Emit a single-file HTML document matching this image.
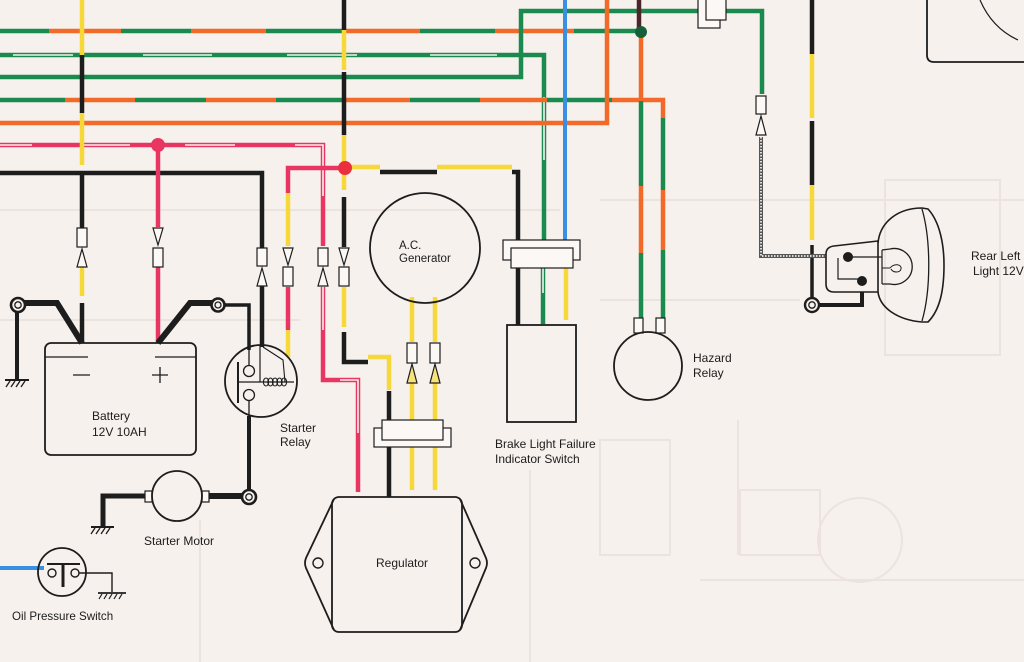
<!DOCTYPE html>
<html><head><meta charset="utf-8">
<style>
html,body{margin:0;padding:0;background:#f7f1ed;}
svg{display:block;}
text{font-family:"Liberation Sans",Arial,sans-serif;fill:#1c1c1c;font-size:12px;}
</style></head><body>
<svg width="1024" height="662" viewBox="0 0 1024 662" xmlns="http://www.w3.org/2000/svg">
<rect width="1024" height="662" fill="#f7f1ed"/>

<!-- faint background print-through -->
<g stroke="#ece3de" stroke-width="2" fill="none">
  <rect x="600" y="440" width="70" height="115"/>
  <line x1="738" y1="420" x2="738" y2="555"/>
  <rect x="740" y="490" width="80" height="65"/>
  <circle cx="860" cy="540" r="42"/>
  <rect x="885" y="180" width="115" height="175"/>
  <line x1="0" y1="210" x2="560" y2="210"/>
  <line x1="0" y1="320" x2="300" y2="320"/>
  <line x1="600" y1="200" x2="1024" y2="200"/>
  <line x1="600" y1="300" x2="800" y2="300"/>
  <line x1="200" y1="520" x2="200" y2="662"/>
  <line x1="530" y1="470" x2="530" y2="662"/>
  <line x1="700" y1="580" x2="1024" y2="580"/>
</g>

<g fill="none" stroke-width="4.5" stroke-linecap="butt">
<!-- y=31 G/O -->
<g stroke="#1b8a4f"><line x1="0" y1="31" x2="49" y2="31"/><line x1="121" y1="31" x2="191" y2="31"/><line x1="266" y1="31" x2="343" y2="31"/><line x1="420" y1="31" x2="495" y2="31"/><line x1="574" y1="31" x2="641" y2="31"/></g>
<g stroke="#f26a2a"><line x1="49" y1="31" x2="121" y2="31"/><line x1="191" y1="31" x2="266" y2="31"/><line x1="343" y1="31" x2="420" y2="31"/><line x1="495" y1="31" x2="574" y2="31"/></g>

<!-- y=55 G/W -->
<path d="M0,55 L544,55 L544,240" stroke="#1b8a4f"/>
<line x1="543" y1="267" x2="543" y2="324" stroke="#1b8a4f"/>
<g stroke="#f7f1ed" stroke-width="1.6"><line x1="13" y1="55" x2="73" y2="55"/><line x1="143" y1="55" x2="212" y2="55"/><line x1="287" y1="55" x2="357" y2="55"/><line x1="430" y1="55" x2="497" y2="55"/><line x1="544" y1="97" x2="544" y2="160"/><line x1="543" y1="268" x2="543" y2="293"/></g>

<!-- y=77 green up to top -->
<path d="M0,77 L521,77 L521,11 L698,11" stroke="#1b8a4f"/>
<path d="M725,11 L762,11 L762,94" stroke="#1b8a4f"/>

<!-- y=100 G/O -->
<g stroke="#1b8a4f"><line x1="0" y1="100" x2="65" y2="100"/><line x1="135" y1="100" x2="206" y2="100"/><line x1="276" y1="100" x2="345" y2="100"/><line x1="410" y1="100" x2="480" y2="100"/><line x1="547" y1="100" x2="612" y2="100"/></g>
<g stroke="#f26a2a"><line x1="65" y1="100" x2="135" y2="100"/><line x1="206" y1="100" x2="276" y2="100"/><line x1="345" y1="100" x2="410" y2="100"/><line x1="480" y1="100" x2="547" y2="100"/><path d="M612,100 L663,100 L663,118"/></g>
<line x1="663" y1="118" x2="663" y2="190" stroke="#1b8a4f"/>
<line x1="663" y1="190" x2="663" y2="250" stroke="#f26a2a"/>
<line x1="663" y1="250" x2="663" y2="318" stroke="#1b8a4f"/>

<!-- y=123 orange -->
<path d="M0,123 L607,123 L607,0" stroke="#f26a2a"/>

<!-- blue -->
<line x1="565" y1="0" x2="565" y2="240" stroke="#3b8fe3" stroke-width="4"/>

<!-- x=640 -->
<line x1="639" y1="0" x2="639" y2="30" stroke="#4b2528"/>
<line x1="641" y1="32" x2="641" y2="101" stroke="#f26a2a"/>
<line x1="641" y1="101" x2="641" y2="186" stroke="#1b8a4f"/>
<line x1="641" y1="186" x2="641" y2="253" stroke="#f26a2a"/>
<line x1="641" y1="253" x2="641" y2="318" stroke="#1b8a4f"/>

<!-- y=145 R/W -->
<path d="M0,145 L323,145 L323,246" stroke="#e93562"/>
<g stroke="#f7f1ed" stroke-width="1.6"><line x1="0" y1="145" x2="32" y2="145"/><line x1="83" y1="145" x2="130" y2="145"/><line x1="185" y1="145" x2="235" y2="145"/><path d="M295,145 L323,145 L323,196"/></g>

<!-- y=173 black -->
<path d="M0,173 L262,173 L262,248" stroke="#1d1d1d"/>

<!-- x=82 -->
<line x1="82" y1="0" x2="82" y2="55" stroke="#f7d83a"/>
<line x1="82" y1="55" x2="82" y2="113" stroke="#1d1d1d"/>
<line x1="82" y1="113" x2="82" y2="165" stroke="#f7d83a"/>
<line x1="82" y1="173" x2="82" y2="228" stroke="#1d1d1d"/>
<line x1="82" y1="262" x2="82" y2="296" stroke="#f7d83a"/>
<line x1="82" y1="303" x2="82" y2="343" stroke="#1d1d1d"/>

<!-- x=158 -->
<line x1="158" y1="145" x2="158" y2="227" stroke="#e93562"/>
<line x1="158" y1="267" x2="158" y2="343" stroke="#e93562"/>

<!-- x=262 below -->
<line x1="262" y1="286" x2="262" y2="347" stroke="#1d1d1d"/>

<!-- x=248 -->
<path d="M224,305 L249,305 L249,350" stroke="#1d1d1d" stroke-width="3.5"/>
<line x1="249" y1="416" x2="249" y2="491" stroke="#1d1d1d" stroke-width="4"/>

<!-- x=287 -->
<path d="M345,168 L288,168 L288,193" stroke="#e93562"/>
<line x1="288" y1="193" x2="288" y2="246" stroke="#f7d83a"/>
<line x1="288" y1="287" x2="288" y2="330" stroke="#e93562"/>
<line x1="288" y1="330" x2="288" y2="357" stroke="#f7d83a"/>

<!-- x=323 below -->
<path d="M323,287 L323,380 L358,380 L358,492" stroke="#e93562"/>
<g stroke="#f7f1ed" stroke-width="1.6"><line x1="323" y1="287" x2="323" y2="330"/><path d="M340,380 L358,380 L358,433"/></g>

<!-- x=344 -->
<line x1="344" y1="0" x2="344" y2="30" stroke="#1d1d1d"/>
<line x1="344" y1="30" x2="344" y2="70" stroke="#f7d83a"/>
<line x1="344" y1="72" x2="344" y2="135" stroke="#1d1d1d"/>
<line x1="344" y1="135" x2="344" y2="190" stroke="#f7d83a"/>
<line x1="344" y1="197" x2="344" y2="247" stroke="#1d1d1d"/>
<line x1="344" y1="287" x2="344" y2="327" stroke="#f7d83a"/>
<path d="M344,332 L344,362 L368,362" stroke="#1d1d1d"/>
<path d="M368,357 L389,357 L389,390" stroke="#f7d83a"/>
<line x1="389" y1="391" x2="389" y2="421" stroke="#1d1d1d"/>
<line x1="389" y1="446" x2="389" y2="497" stroke="#1d1d1d"/>

<!-- right from dot -->
<line x1="345" y1="167" x2="380" y2="167" stroke="#f7d83a"/>
<line x1="380" y1="172" x2="437" y2="172" stroke="#1d1d1d"/>
<line x1="437" y1="167" x2="512" y2="167" stroke="#f7d83a"/>
<path d="M512,172 L518,172 L518,240" stroke="#1d1d1d"/>
<line x1="518" y1="268" x2="518" y2="325" stroke="#1d1d1d"/>
<line x1="566" y1="266" x2="566" y2="320" stroke="#f7d83a"/>

<!-- generator wires -->
<g stroke="#f7d83a"><line x1="412" y1="297" x2="412" y2="342"/><line x1="435" y1="297" x2="435" y2="342"/><line x1="412" y1="375" x2="412" y2="420"/><line x1="435" y1="375" x2="435" y2="420"/><line x1="412" y1="447" x2="412" y2="490"/><line x1="435" y1="447" x2="435" y2="490"/></g>

<!-- x=812 -->
<line x1="812" y1="0" x2="812" y2="54" stroke="#1d1d1d"/>
<line x1="812" y1="54" x2="812" y2="118" stroke="#f7d83a"/>
<line x1="812" y1="121" x2="812" y2="185" stroke="#1d1d1d"/>
<line x1="812" y1="185" x2="812" y2="240" stroke="#f7d83a"/>
<line x1="812" y1="245" x2="812" y2="298" stroke="#1d1d1d" stroke-width="3.5"/>

<!-- checkered wire -->
<path d="M761,137 L761,256 L848,256" stroke="#555" stroke-width="4"/>
<path d="M761,137 L761,256 L848,256" stroke="#ddd" stroke-width="2" stroke-dasharray="1.5 1.5"/>

<!-- lamp ground -->
<path d="M819,305 L862,305 L862,281" stroke="#1d1d1d" stroke-width="4"/>

<!-- blue oil -->
<line x1="0" y1="568" x2="44" y2="568" stroke="#3b8fe3" stroke-width="4"/>
</g>

<!-- dots -->
<circle cx="158" cy="145" r="7" fill="#e93562"/>
<circle cx="345" cy="168" r="7" fill="#ea2f3e"/>
<circle cx="641" cy="32" r="6" fill="#15603a"/>

<!-- connectors -->
<g fill="#fbf8f6" stroke="#1d1d1d" stroke-width="1.2">
  <rect x="77" y="228" width="10" height="19"/><path d="M82,249 L77,267 L87,267 Z"/>
  <path d="M153,228 L163,228 L158,245 Z"/><rect x="153" y="248" width="10" height="19"/>
  <rect x="257" y="248" width="10" height="18"/><path d="M262,268 L257,286 L267,286 Z"/>
  <path d="M283,248 L293,248 L288,265 Z"/><rect x="283" y="267" width="10" height="19"/>
  <rect x="318" y="248" width="10" height="18"/><path d="M323,268 L318,286 L328,286 Z"/>
  <path d="M339,248 L349,248 L344,265 Z"/><rect x="339" y="267" width="10" height="19"/>
  <rect x="407" y="343" width="10" height="20"/><path d="M412,364 L407,383 L417,383 Z" fill="#f7e37a"/>
  <rect x="430" y="343" width="10" height="20"/><path d="M435,364 L430,383 L440,383 Z" fill="#f7e37a"/>
  <rect x="756" y="96" width="10" height="18"/><path d="M761,116 L756,135 L766,135 Z"/>
  <!-- regulator connector -->
  <rect x="374" y="428" width="77" height="19"/>
  <rect x="382" y="420" width="61" height="20"/>
  <!-- brake connector -->
  <rect x="503" y="240" width="77" height="20"/>
  <rect x="511" y="248" width="62" height="20"/>
  <!-- top connector -->
  <rect x="698" y="-2" width="22" height="30"/>
  <rect x="706" y="-2" width="20" height="22"/>
  <!-- hazard terminals -->
  <rect x="634" y="318" width="9" height="15"/>
  <rect x="656" y="318" width="9" height="15"/>
  <!-- motor terminals -->
  <rect x="145" y="491" width="7" height="11"/>
  <rect x="202" y="491" width="7" height="11"/>
</g>

<!-- battery -->
<g fill="none" stroke="#1d1d1d">
  <path d="M18,303 L57,303 L82,343" stroke-width="6"/>
  <path d="M158,343 L190,303 L212,303" stroke-width="6"/>
  <line x1="17" y1="310" x2="17" y2="380" stroke-width="4"/>
  <line x1="5" y1="380" x2="29" y2="380" stroke-width="2"/>
  <path d="M10,381 L6,387 M15,381 L11,387 M20,381 L16,387 M25,381 L21,387" stroke-width="1.3"/>
  <rect x="45" y="343" width="151" height="112" rx="6" stroke-width="1.8"/>
  <path d="M45,357 L88,357 M155,357 L196,357" stroke-width="1.3"/>
  <path d="M73,375 L90,375 M152,375 L168,375 M160,367 L160,383" stroke-width="1.3"/>
  <circle cx="18" cy="305" r="7" fill="#f7f1ed" stroke-width="2.6"/>
  <circle cx="18" cy="305" r="3.2" stroke-width="1.3"/>
  <circle cx="218" cy="305" r="6.5" fill="#f7f1ed" stroke-width="2.6"/>
  <circle cx="218" cy="305" r="3" stroke-width="1.3"/>
</g>
<text x="92" y="420">Battery</text>
<text x="92" y="436">12V 10AH</text>

<!-- starter relay -->
<g fill="none" stroke="#1d1d1d">
  <circle cx="261" cy="381" r="36" stroke-width="1.8"/>
  <line x1="238" y1="362" x2="238" y2="403" stroke-width="2"/>
  <line x1="238" y1="382" x2="294" y2="382" stroke-width="1.3"/>
  <line x1="249" y1="345" x2="249" y2="365" stroke-width="1.3"/>
  <line x1="249" y1="400" x2="249" y2="418" stroke-width="1.3"/>
  <circle cx="249" cy="371" r="5.5" fill="#f7f1ed" stroke-width="1.3"/>
  <circle cx="249" cy="395" r="5.5" fill="#f7f1ed" stroke-width="1.3"/>
  <path d="M260,346 L260,382" stroke-width="1.2"/>
  <path d="M263,347 L283,360 L285,382" stroke-width="1.1"/>
  <g stroke-width="1.1">
    <ellipse cx="266" cy="382" rx="2.6" ry="4"/><ellipse cx="270.5" cy="382" rx="2.6" ry="4"/><ellipse cx="275" cy="382" rx="2.6" ry="4"/><ellipse cx="279.5" cy="382" rx="2.6" ry="4"/><ellipse cx="284" cy="382" rx="2.6" ry="4"/>
  </g>
</g>
<text x="280" y="432">Starter</text>
<text x="280" y="446">Relay</text>

<!-- starter motor -->
<g fill="none" stroke="#1d1d1d">
  <circle cx="177" cy="496" r="25" stroke-width="1.8"/>
  <line x1="209" y1="496" x2="242" y2="496" stroke-width="6"/>
  <path d="M145,496 L103,496 L103,526" stroke-width="5"/>
  <line x1="91" y1="527" x2="114" y2="527" stroke-width="2"/>
  <path d="M95,528 L91,534 M100,528 L96,534 M105,528 L101,534 M110,528 L106,534" stroke-width="1.3"/>
  <circle cx="249" cy="497" r="7" fill="#f7f1ed" stroke-width="2.6"/>
  <circle cx="249" cy="497" r="3.2" stroke-width="1.3"/>
</g>
<text x="144" y="545">Starter Motor</text>

<!-- oil pressure switch -->
<g fill="none" stroke="#1d1d1d">
  <circle cx="62" cy="572" r="24" stroke-width="1.8"/>
  <line x1="47" y1="564" x2="80" y2="564" stroke-width="2"/>
  <line x1="63" y1="564" x2="63" y2="587" stroke-width="3"/>
  <circle cx="52" cy="573" r="4" fill="#f7f1ed" stroke-width="1.4"/>
  <circle cx="75" cy="573" r="4" fill="#f7f1ed" stroke-width="1.4"/>
  <path d="M79,573 L112,573 L112,592" stroke-width="1.4"/>
  <line x1="98" y1="593" x2="126" y2="593" stroke-width="1.8"/>
  <path d="M102,594 L99,599 M107,594 L104,599 M112,594 L109,599 M117,594 L114,599 M122,594 L119,599" stroke-width="1.2"/>
</g>
<text x="12" y="620" style="font-size:11.6px">Oil Pressure Switch</text>

<!-- generator -->
<circle cx="425" cy="248" r="55" fill="none" stroke="#1d1d1d" stroke-width="1.8"/>
<text x="399" y="249" style="font-size:11.5px">A.C.</text>
<text x="399" y="262" style="font-size:11.5px">Generator</text>

<!-- regulator -->
<g fill="none" stroke="#1d1d1d" stroke-width="1.8">
  <rect x="332" y="497" width="130" height="135" rx="7"/>
  <path d="M334,499 L306,558 Q304,563 306,568 L334,630"/>
  <path d="M460,499 L486,558 Q488,563 486,568 L460,630"/>
  <circle cx="318" cy="563" r="5" stroke-width="1.4"/>
  <circle cx="475" cy="563" r="5" stroke-width="1.4"/>
</g>
<text x="376" y="567">Regulator</text>

<!-- brake switch -->
<rect x="507" y="325" width="69" height="97" fill="none" stroke="#1d1d1d" stroke-width="1.8"/>
<text x="495" y="448">Brake Light Failure</text>
<text x="495" y="463">Indicator Switch</text>

<!-- hazard relay -->
<circle cx="648" cy="366" r="34" fill="none" stroke="#1d1d1d" stroke-width="1.8"/>
<text x="693" y="362">Hazard</text>
<text x="693" y="377">Relay</text>

<!-- top right box -->
<g fill="none" stroke="#1d1d1d" stroke-width="1.8">
  <path d="M927,0 L927,55 Q927,62 934,62 L1024,62"/>
  <path d="M980,0 Q992,28 1018,40" stroke-width="1.2"/>
</g>

<!-- lamp -->
<g fill="none" stroke="#1d1d1d" stroke-width="1.6">
  <path d="M878,243 C880,222 898,208 922,208 L928,209 C940,222 944,245 944,265 C944,290 940,310 928,322 L922,322 C898,320 880,308 878,292"/>
  <path d="M922,209 C931,240 931,290 922,321" stroke-width="1.3"/>
  <path d="M834,246 L878,241 L878,292 L834,292 Q826,292 826,284 L826,254 Q826,247 834,246 Z" fill="#f7f1ed"/>
  <path d="M848,257 L882,257 M838,258 L838,279 L862,279" stroke-width="1.2"/>
  <path d="M882,250 L882,284" stroke-width="1.2"/>
  <path d="M882,250 L890,249 A18,18 0 1 1 890,284 L882,284" stroke-width="1.3"/>
  <path d="M882,268 L890,268 C894,263 902,264 901,269 C900,273 893,273 891,269" stroke-width="1"/>
</g>
<circle cx="848" cy="257" r="5" fill="#1d1d1d"/>
<circle cx="862" cy="281" r="5" fill="#1d1d1d"/>
<circle cx="812" cy="305" r="7" fill="#f7f1ed" stroke="#1d1d1d" stroke-width="2.4"/>
<circle cx="812" cy="305" r="3.2" fill="none" stroke="#1d1d1d" stroke-width="1.3"/>
<text x="971" y="260">Rear Left</text>
<text x="973" y="275">Light 12V</text>
</svg>
</body></html>
